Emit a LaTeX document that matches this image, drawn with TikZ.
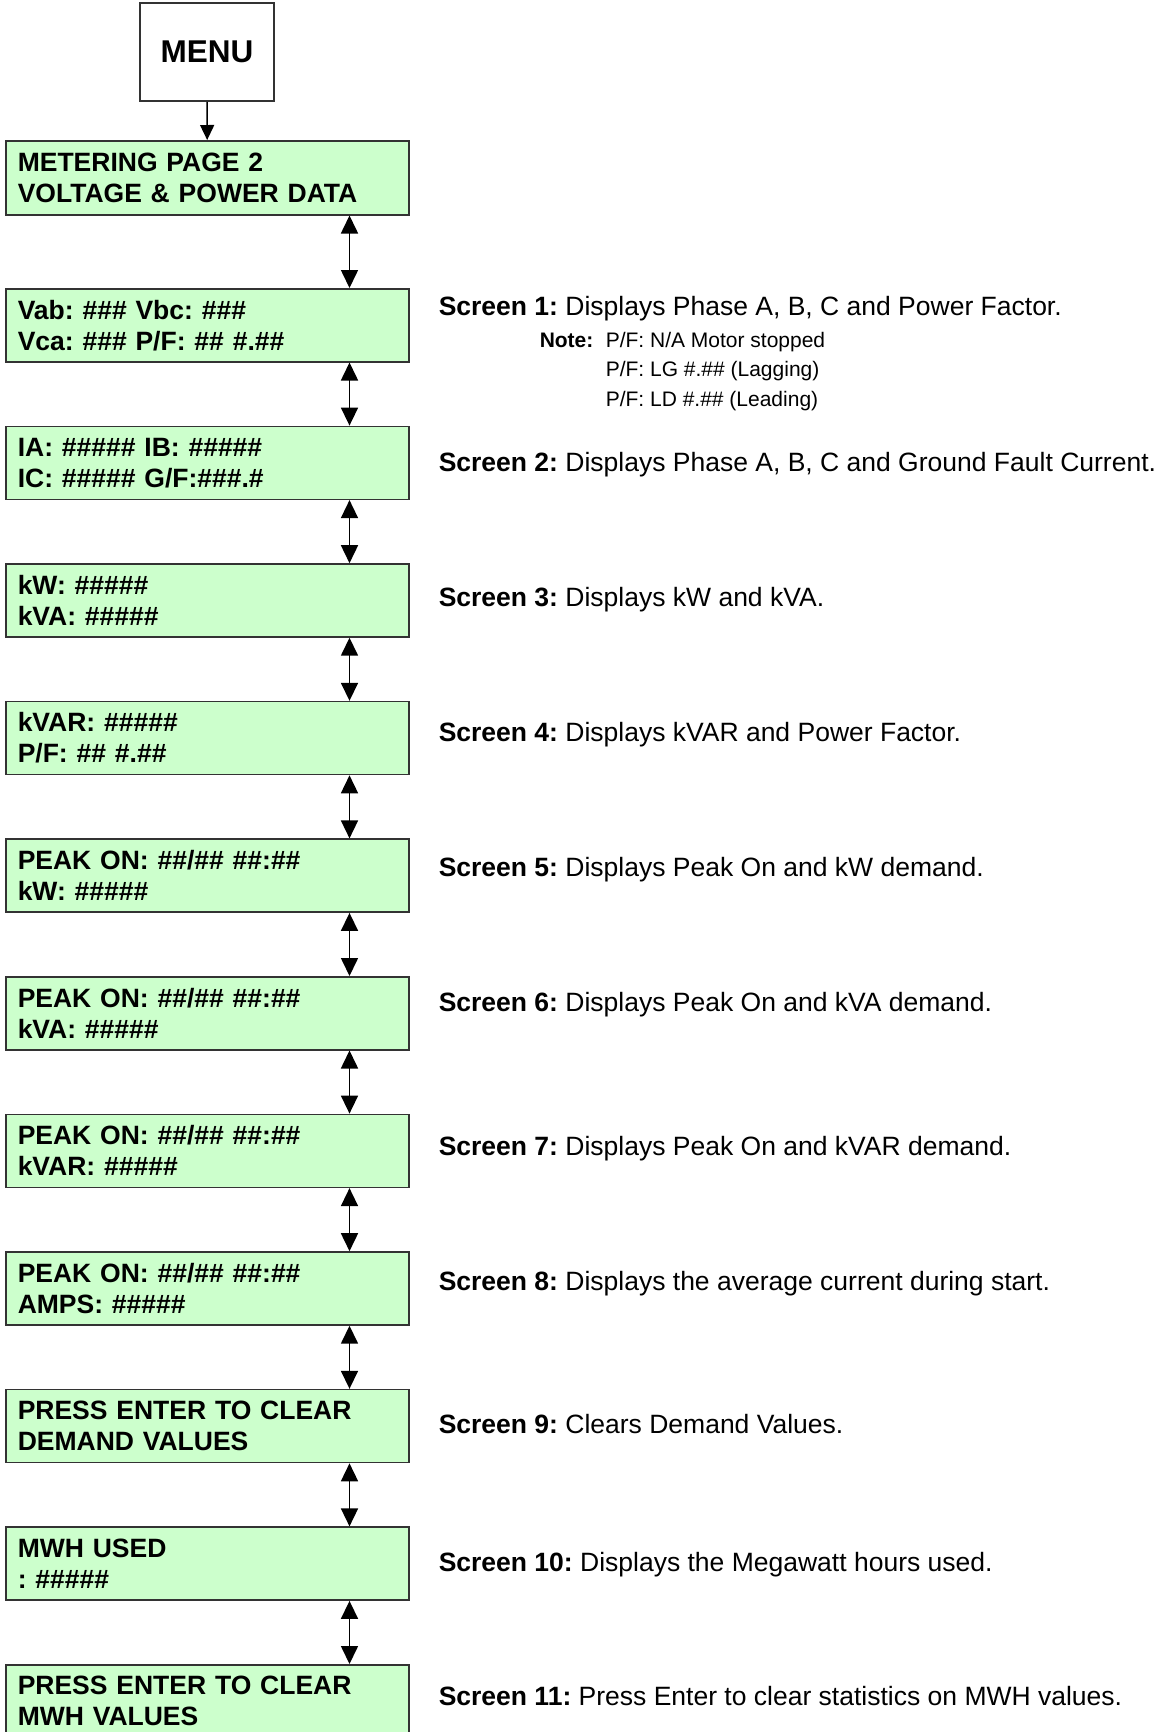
\documentclass[tikz,border=0pt]{standalone}
\usepackage{fontspec}
\setmainfont{Liberation Sans}
\usepackage{xcolor}
\usepackage{tikz}
\usetikzlibrary{arrows.meta}
\usetikzlibrary{positioning}
\definecolor{lcdgreen}{HTML}{CCFFCC}
\definecolor{boxline}{HTML}{333333}
\tikzset{every picture/.style={line width=1.5pt}}

\begin{document}
\frenchspacing
\begin{tikzpicture}[x=1pt,y=-1pt,
  menubox/.style={draw=boxline,fill=white,minimum width=134pt,minimum height=98pt,inner sep=0pt,font=\fontsize{31.5}{36}\selectfont\bfseries},
  lcdbox/.style={draw=boxline,fill=lcdgreen,anchor=north west,minimum width=403pt,minimum height=73pt,inner xsep=12pt,inner ysep=0pt,text width=379pt,align=left,font=\fontsize{26.5}{31}\selectfont\bfseries},
  screentxt/.style={anchor=west,inner sep=0pt,text height=19pt,text depth=6pt,font=\fontsize{26.5}{31}\selectfont},
  notetxt/.style={anchor=west,inner sep=0pt,text height=15pt,text depth=5pt,font=\fontsize{21}{29}\selectfont},
  navarrow/.style={{Triangle[width=17pt,length=18pt]}-{Triangle[width=17pt,length=18pt]},line width=1.6pt},
  menuarrow/.style={-{Triangle[width=14pt,length=15pt]},line width=1.4pt}]
\useasboundingbox (0,0) rectangle (1162,1732);
\node[menubox] (menu) at (207,52) {MENU};
\node[lcdbox,minimum height=74pt] (meter) at (5,140) {METERING PAGE 2\\VOLTAGE \& POWER DATA};
\draw[menuarrow] (menu) -- (meter);

\node[lcdbox] (s1) at (5,288) {Vab: \#\#\# Vbc: \#\#\#\\Vca: \#\#\# P/F: \#\# \#.\#\#};
\node[lcdbox] (s2) at (5,425.6) {IA: \#\#\#\#\# IB: \#\#\#\#\#\\IC: \#\#\#\#\# G/F:\#\#\#.\#};
\node[lcdbox] (s3) at (5,563.2) {kW: \#\#\#\#\#\\kVA: \#\#\#\#\#};
\node[lcdbox] (s4) at (5,700.8) {kVAR: \#\#\#\#\#\\P/F: \#\# \#.\#\#};
\node[lcdbox] (s5) at (5,838.4) {PEAK ON: \#\#/\#\# \#\#:\#\#\\kW: \#\#\#\#\#};
\node[lcdbox] (s6) at (5,976) {PEAK ON: \#\#/\#\# \#\#:\#\#\\kVA: \#\#\#\#\#};
\node[lcdbox] (s7) at (5,1113.6) {PEAK ON: \#\#/\#\# \#\#:\#\#\\kVAR: \#\#\#\#\#};
\node[lcdbox] (s8) at (5,1251.2) {PEAK ON: \#\#/\#\# \#\#:\#\#\\AMPS: \#\#\#\#\#};
\node[lcdbox] (s9) at (5,1388.8) {PRESS ENTER TO CLEAR\\DEMAND VALUES};
\node[lcdbox] (s10) at (5,1526.4) {MWH USED\\: \#\#\#\#\#};
\node[lcdbox] (s11) at (5,1664) {PRESS ENTER TO CLEAR\\MWH VALUES};

\draw[navarrow] ([xshift=-60pt]meter.south east) -- ([xshift=-60pt]s1.north east);
\draw[navarrow] ([xshift=-60pt]s1.south east) -- ([xshift=-60pt]s2.north east);
\draw[navarrow] ([xshift=-60pt]s2.south east) -- ([xshift=-60pt]s3.north east);
\draw[navarrow] ([xshift=-60pt]s3.south east) -- ([xshift=-60pt]s4.north east);
\draw[navarrow] ([xshift=-60pt]s4.south east) -- ([xshift=-60pt]s5.north east);
\draw[navarrow] ([xshift=-60pt]s5.south east) -- ([xshift=-60pt]s6.north east);
\draw[navarrow] ([xshift=-60pt]s6.south east) -- ([xshift=-60pt]s7.north east);
\draw[navarrow] ([xshift=-60pt]s7.south east) -- ([xshift=-60pt]s8.north east);
\draw[navarrow] ([xshift=-60pt]s8.south east) -- ([xshift=-60pt]s9.north east);
\draw[navarrow] ([xshift=-60pt]s9.south east) -- ([xshift=-60pt]s10.north east);
\draw[navarrow] ([xshift=-60pt]s10.south east) -- ([xshift=-60pt]s11.north east);

\node[screentxt] (t1) at (438,309) {\textbf{Screen 1:} Displays Phase A, B, C and Power Factor.};
\node[notetxt] (note) at (539,342) {\textbf{Note:}};
\node[notetxt] (pf1) at (605,342) {P/F: N/A Motor stopped};
\node[notetxt] (pf2) at (605,371) {P/F: LG \#.\#\# (Lagging)};
\node[notetxt] (pf3) at (605,401) {P/F: LD \#.\#\# (Leading)};
\node[screentxt] (t2) at (438,465) {\textbf{Screen 2:} Displays Phase A, B, C and Ground Fault Current.};
\node[screentxt] (t3) at (438,600) {\textbf{Screen 3:} Displays kW and kVA.};
\node[screentxt] (t4) at (438,735) {\textbf{Screen 4:} Displays kVAR and Power Factor.};
\node[screentxt] (t5) at (438,870) {\textbf{Screen 5:} Displays Peak On and kW demand.};
\node[screentxt] (t6) at (438,1005) {\textbf{Screen 6:} Displays Peak On and kVA demand.};
\node[screentxt] (t7) at (438,1149) {\textbf{Screen 7:} Displays Peak On and kVAR demand.};
\node[screentxt] (t8) at (438,1284) {\textbf{Screen 8:} Displays the average current during start.};
\node[screentxt] (t9) at (438,1427) {\textbf{Screen 9:} Clears Demand Values.};
\node[screentxt] (t10) at (438,1565) {\textbf{Screen 10:} Displays the Megawatt hours used.};
\node[screentxt] (t11) at (438,1699) {\textbf{Screen 11:} Press Enter to clear statistics on MWH values.};
\end{tikzpicture}
\end{document}
